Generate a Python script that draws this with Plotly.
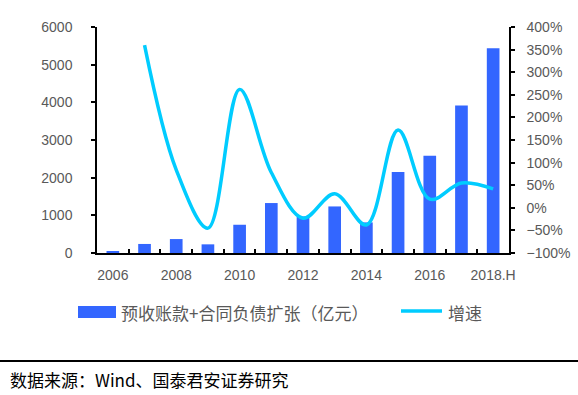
import plotly.graph_objects as go

categories = ["2006", "2007", "2008", "2009", "2010", "2011", "2012", "2013",
              "2014", "2015", "2016", "2017", "2018.H"]
tick_labels = ["2006", "", "2008", "", "2010", "", "2012", "", "2014", "", "2016", "", "2018.H"]
expansion = [50, 240, 370, 230, 750, 1326, 970, 1236, 812, 2148, 2580, 3915, 5438]
growth_x = categories[1:]
growth = [360, 84, -45, 262, 78, -23, 31, -38, 172, 19, 55, 42]

bar_name = "预收账款+合同负债扩张（亿元）"
line_name = "增速"
source_text = "数据来源：Wind、国泰君安证券研究"

BAR_COLOR = "#3366FF"
LINE_COLOR = "#00CCFF"

# plot area in pixels
L, R, T, B = 97, 509, 27, 253
PW, PH = R - L, B - T


def px(x):
    return (x - L) / PW


def py(y):
    return (B - y) / PH


fig = go.Figure()
fig.add_trace(go.Bar(x=categories, y=expansion, name=bar_name, showlegend=False,
                     marker=dict(color=BAR_COLOR, line=dict(width=0))))
fig.add_trace(go.Scatter(x=growth_x, y=growth, name=line_name, yaxis="y2", showlegend=False,
                         mode="lines", line=dict(color=LINE_COLOR, width=3.5,
                                                 shape="spline", smoothing=1.0)))

tick_font = dict(family="Liberation Sans, Arial, sans-serif", size=14, color="#595959")
legend_font = dict(family="Noto Sans CJK SC", size=17, color="#595959")

fig.update_layout(
    width=578, height=395,
    margin=dict(l=L, r=578 - R, t=T, b=395 - B, autoexpand=False),
    paper_bgcolor="white", plot_bgcolor="white",
    bargap=0.6,
    showlegend=False,
    xaxis=dict(type="category", tickvals=categories, ticktext=tick_labels,
               tickson="boundaries", ticks="inside", ticklen=4, tickwidth=1.5,
               tickcolor="black", showline=True, linecolor="black", linewidth=1.5,
               showgrid=False, tickfont=tick_font, tickangle=0,
               ticklabelstandoff=8, range=[-0.5, 12.5]),
    yaxis=dict(range=[0, 6000], dtick=1000, showline=True, linecolor="black",
               linewidth=1.5, ticks="outside", ticklen=4, tickwidth=1.5,
               tickcolor="black", showgrid=False, zeroline=False,
               tickfont=tick_font, ticklabelstandoff=16),
    yaxis2=dict(range=[-100, 400], dtick=50, overlaying="y", side="right",
                showline=True, linecolor="black", linewidth=1.5, ticks="outside",
                ticklen=4, tickwidth=1.5, tickcolor="black", showgrid=False,
                zeroline=False, ticksuffix="%", tickfont=tick_font,
                ticklabelstandoff=9),
)

# manual legend
fig.add_shape(type="rect", xref="paper", yref="paper", x0=px(78), x1=px(116),
              y0=py(318), y1=py(306), fillcolor=BAR_COLOR, line=dict(width=0))
fig.add_annotation(text=bar_name, xref="paper", yref="paper", x=px(119), xanchor="left",
                   y=py(312), yanchor="middle", showarrow=False, font=legend_font)
fig.add_shape(type="line", xref="paper", yref="paper", x0=px(401), x1=px(442),
              y0=py(311), y1=py(311), line=dict(color=LINE_COLOR, width=3.5))
fig.add_annotation(text=line_name, xref="paper", yref="paper", x=px(446), xanchor="left",
                   y=py(312), yanchor="middle", showarrow=False, font=legend_font)

# source line and text
fig.add_shape(type="line", xref="paper", yref="paper", x0=px(0), x1=px(578),
              y0=py(361), y1=py(361), line=dict(color="black", width=2))
fig.add_annotation(text=source_text, xref="paper", yref="paper",
                   x=px(8), xanchor="left", y=py(379), yanchor="middle",
                   showarrow=False,
                   font=dict(family="Noto Sans CJK SC", size=17, color="black"))

fig.write_html("out.html", config={"displayModeBar": False},
               post_script="document.body.style.margin='0';")
